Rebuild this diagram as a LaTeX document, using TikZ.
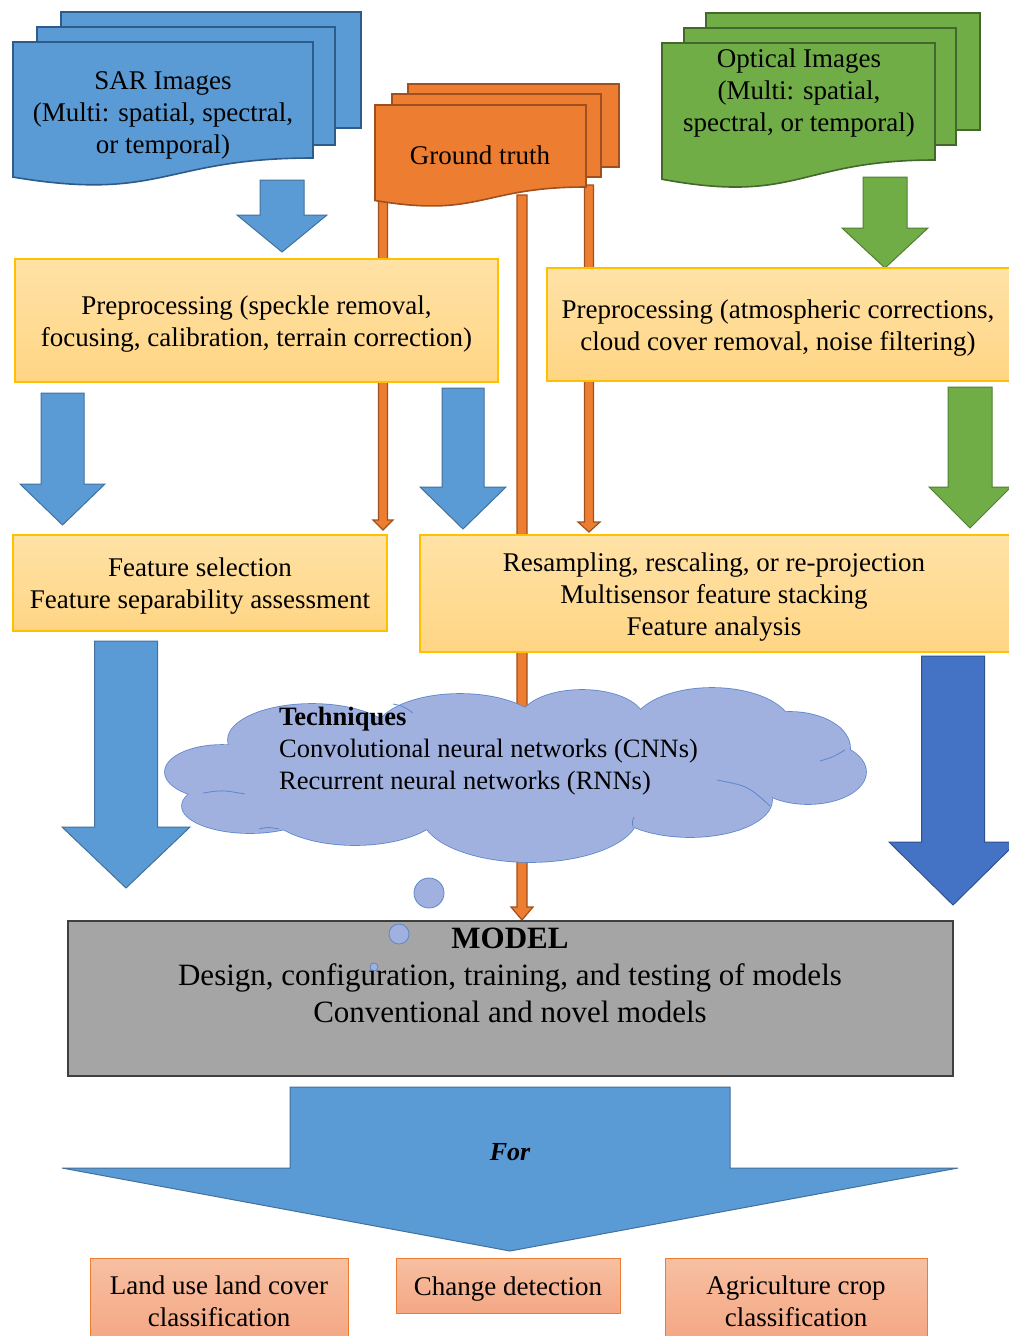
\documentclass[tikz,border=0pt]{standalone}
\usepackage{fontspec}
\setmainfont{Liberation Serif}
\definecolor{sarblue}{HTML}{5B9BD5}
\definecolor{sarline}{HTML}{2E5C8A}
\definecolor{arrline}{HTML}{41719C}
\definecolor{gtorange}{HTML}{ED7D31}
\definecolor{gtline}{HTML}{A0501E}
\definecolor{optgreen}{HTML}{70AD47}
\definecolor{optline}{HTML}{44682C}
\definecolor{optarrline}{HTML}{507E32}
\definecolor{boxtop}{HTML}{FFE2A6}
\definecolor{boxbot}{HTML}{FFD584}
\definecolor{boxline}{HTML}{FFC000}
\definecolor{darkblue}{HTML}{4472C4}
\definecolor{darkblueline}{HTML}{2F528F}
\definecolor{cloudfill}{HTML}{A0B1DF}
\definecolor{cloudline}{HTML}{5F86CC}
\definecolor{modelgray}{HTML}{A5A5A5}
\definecolor{modelline}{HTML}{3F3F3F}
\definecolor{salmontop}{HTML}{F7C0A2}
\definecolor{salmonbot}{HTML}{F4A784}
\definecolor{salmonline}{HTML}{ED7D31}

% document shape with wavy bottom: x1 y1 x2 ybottomright style
\newcommand\mydoc[5]{%
  \pgfmathsetmacro\dH{(#4-#2)/0.802}%
  \pgfmathsetmacro\dxm{(#1+#3)/2}%
  \pgfmathsetmacro\dyc{#2+1.1075*\dH}%
  \pgfmathsetmacro\dyl{#2+0.934*\dH}%
  \draw[#5] (#1,#2) -- (#3,#2) -- (#3,#4) .. controls (\dxm,#4) and (\dxm,\dyc) .. (#1,\dyl) -- cycle;}
% block arrow pointing down: xc ytop shafthalf headhalf headstart tip style
\newcommand\blkdown[7]{%
  \draw[#7] ({#1-#3},#2) -- ({#1+#3},#2) -- ({#1+#3},#5) -- ({#1+#4},#5) -- (#1,#6) -- ({#1-#4},#5) -- ({#1-#3},#5) -- cycle;}

\tikzset{
  txt/.style={align=center, font=\fontsize{27}{32}\selectfont, inner sep=0pt, yshift=-3.5pt},
  sardoc/.style={fill=sarblue, draw=sarline, line width=1.6pt, line join=miter},
  gtdoc/.style={fill=gtorange, draw=gtline, line width=1.6pt},
  optdoc/.style={fill=optgreen, draw=optline, line width=1.6pt},
  sararr/.style={fill=sarblue, draw=arrline, line width=1pt},
  optarr/.style={fill=optgreen, draw=optarrline, line width=1pt},
  dkarr/.style={fill=darkblue, draw=darkblueline, line width=1pt},
  stem/.style={fill=gtorange, draw=gtline, line width=1.2pt},
  ybox/.style={draw=boxline, line width=1.2pt, top color=boxtop, bottom color=boxbot, inner sep=0pt},
  sbox/.style={draw=salmonline, line width=0.8pt, top color=salmontop, bottom color=salmonbot, inner sep=0pt},
  bubble/.style={circle, draw=cloudline, fill=cloudfill, line width=0.8pt, inner sep=0pt},
  cloudarc/.style={draw=cloudline, line width=0.8pt},
}

\begin{document}
\begin{tikzpicture}[x=1pt,y=-1pt]
\clip (0,0) rectangle (1009,1336);
\fill[white] (0,0) rectangle (1009,1336);

% orange stems from ground truth
\blkdown{383}{195}{4.5}{10}{520}{530}{stem}
\blkdown{522}{195}{5}{11}{907}{920}{stem}
\blkdown{589}{185}{4.5}{11}{522}{532}{stem}

% SAR images
\draw[sardoc] (61,12) rectangle (361,128);
\draw[sardoc] (37,27) rectangle (335,145);
\mydoc{13}{42}{313}{158}{sardoc}
\node[txt] (sar) at (163,112) {SAR Images\\(Multi: spatial, spectral,\\or temporal)};

% Ground truth
\draw[gtdoc] (408,84) rectangle (619,167);
\draw[gtdoc] (392,94) rectangle (601,177);
\mydoc{375}{105}{586}{187}{gtdoc}
\node[txt] (gt) at (480,152) {Ground truth};

% Optical images
\draw[optdoc] (706,13) rectangle (980,130);
\draw[optdoc] (684,28) rectangle (956,145);
\mydoc{662}{43}{935}{160}{optdoc}
\node[txt] (opt) at (799,90) {Optical Images\\(Multi: spatial,\\spectral, or temporal)};

% arrows under inputs
\blkdown{282}{180}{22}{45}{215}{252}{sararr}
\blkdown{885}{177}{22}{43}{228}{268}{optarr}

% preprocessing boxes
\node[ybox, minimum width=483pt, minimum height=123pt] (pre1) at (256.5,320.5) {};
\node[txt] (pre1t) at (pre1.center)
  {Preprocessing (speckle removal,\\focusing, calibration, terrain correction)};
\node[ybox, minimum width=465pt, minimum height=113pt] (pre2) at (779.5,324.5) {};
\node[txt] (pre2t) at ([xshift=-1.5pt]pre2.center)
  {Preprocessing (atmospheric corrections,\\cloud cover removal, noise filtering)};

% arrows from preprocessing
\blkdown{62.5}{393}{21.5}{42.5}{484}{525}{sararr}
\blkdown{463}{388}{21}{43}{487}{529}{sararr}
\blkdown{970}{387}{22}{41}{487}{528}{optarr}

% feature boxes
\node[ybox, minimum width=374pt, minimum height=96pt] (feat) at (200,583) {};
\node[txt] (featt) at (feat.center) {Feature selection\\Feature separability assessment};
\node[ybox, minimum width=592pt, minimum height=117pt] (resamp) at (716,593.5) {};
\node[txt] (resampt) at ([xshift=-2pt]resamp.center)
  {Resampling, rescaling, or re-projection\\Multisensor feature stacking\\Feature analysis};

% big arrows to model
\blkdown{126}{641}{31.5}{64}{827}{888}{sararr}
\blkdown{953}{656}{31.5}{64}{842}{905}{dkarr}

% cloud built from puffs: outline first, then fill over it
\foreach \cx/\cy/\rx/\ry in {222/772/57/27, 250/806/68/27, 312/740/84/36, 460/733/85/39,
    582/720/62/30, 712/728/80/40, 790/748/60/36, 808/772/58/32, 690/800/82/37,
    530/815/108/47, 355/805/90/40}
  \draw[cloudline, line width=1.6pt] (\cx,\cy) ellipse [x radius=\rx, y radius=\ry];
\foreach \cx/\cy/\rx/\ry in {222/772/57/27, 250/806/68/27, 312/740/84/36, 460/733/85/39,
    582/720/62/30, 712/728/80/40, 790/748/60/36, 808/772/58/32, 690/800/82/37,
    530/815/108/47, 355/805/90/40, 515/770/300/45}
  \fill[cloudfill] (\cx,\cy) ellipse [x radius=\rx, y radius=\ry];
\coordinate (cloud) at (515,775);
\draw[cloudarc] (393,704) .. controls (403,706) .. (413,713);
\draw[cloudarc] (203,793) .. controls (222,790) .. (245,794);
\draw[cloudarc] (259,829) .. controls (268,827) .. (279,829);
\draw[cloudarc] (820,761) .. controls (833,757) .. (845,750);
\draw[cloudarc] (717,780) .. controls (748,786) .. (770,806);
\draw[cloudarc] (633,827) .. controls (632,822) .. (634,817);
\node[anchor=west, align=left, font=\fontsize{26.5}{32}\selectfont, inner sep=0pt, yshift=-3pt] (tech) at (279,748)
  {\textbf{Techniques}\\Convolutional neural networks (CNNs)\\Recurrent neural networks (RNNs)};
\node[bubble, minimum size=30pt] (b1) at (429,893) {};

% model
\node[draw=modelline, line width=2pt, fill=modelgray, minimum width=885pt, minimum height=155pt, inner sep=0pt] (model) at (510.5,998.5) {};
\node[bubble, minimum size=20pt] (b2) at (399,934) {};
\node[bubble, minimum size=8pt] (b3) at (374,967) {};
\node[align=center, font=\fontsize{31}{37}\selectfont, inner sep=0pt] (modeltxt) at (510,975)
  {\textbf{MODEL}\\Design, configuration, training, and testing of models\\Conventional and novel models};

% bottom arrow
\draw[sararr] (290,1087) -- (730,1087) -- (730,1168) -- (958,1168) -- (510,1251) -- (62,1168) -- (290,1168) -- cycle;
\node[font=\fontsize{26}{30}\selectfont\bfseries\itshape, inner sep=0pt] (for) at (510,1152) {For};

% outputs
\node[sbox, minimum width=258pt, minimum height=82pt] (lulc) at (219,1299) {};
\node[txt] (lulct) at ([yshift=1.5pt]lulc.center) {Land use land cover\\classification};
\node[sbox, minimum width=224pt, minimum height=55pt] (chg) at (508,1285.5) {};
\node[txt] (chgt) at (chg.center) {Change detection};
\node[sbox, minimum width=262pt, minimum height=82pt] (agri) at (796,1299) {};
\node[txt] (agrit) at ([yshift=1.5pt]agri.center) {Agriculture crop\\classification};
\end{tikzpicture}
\end{document}
